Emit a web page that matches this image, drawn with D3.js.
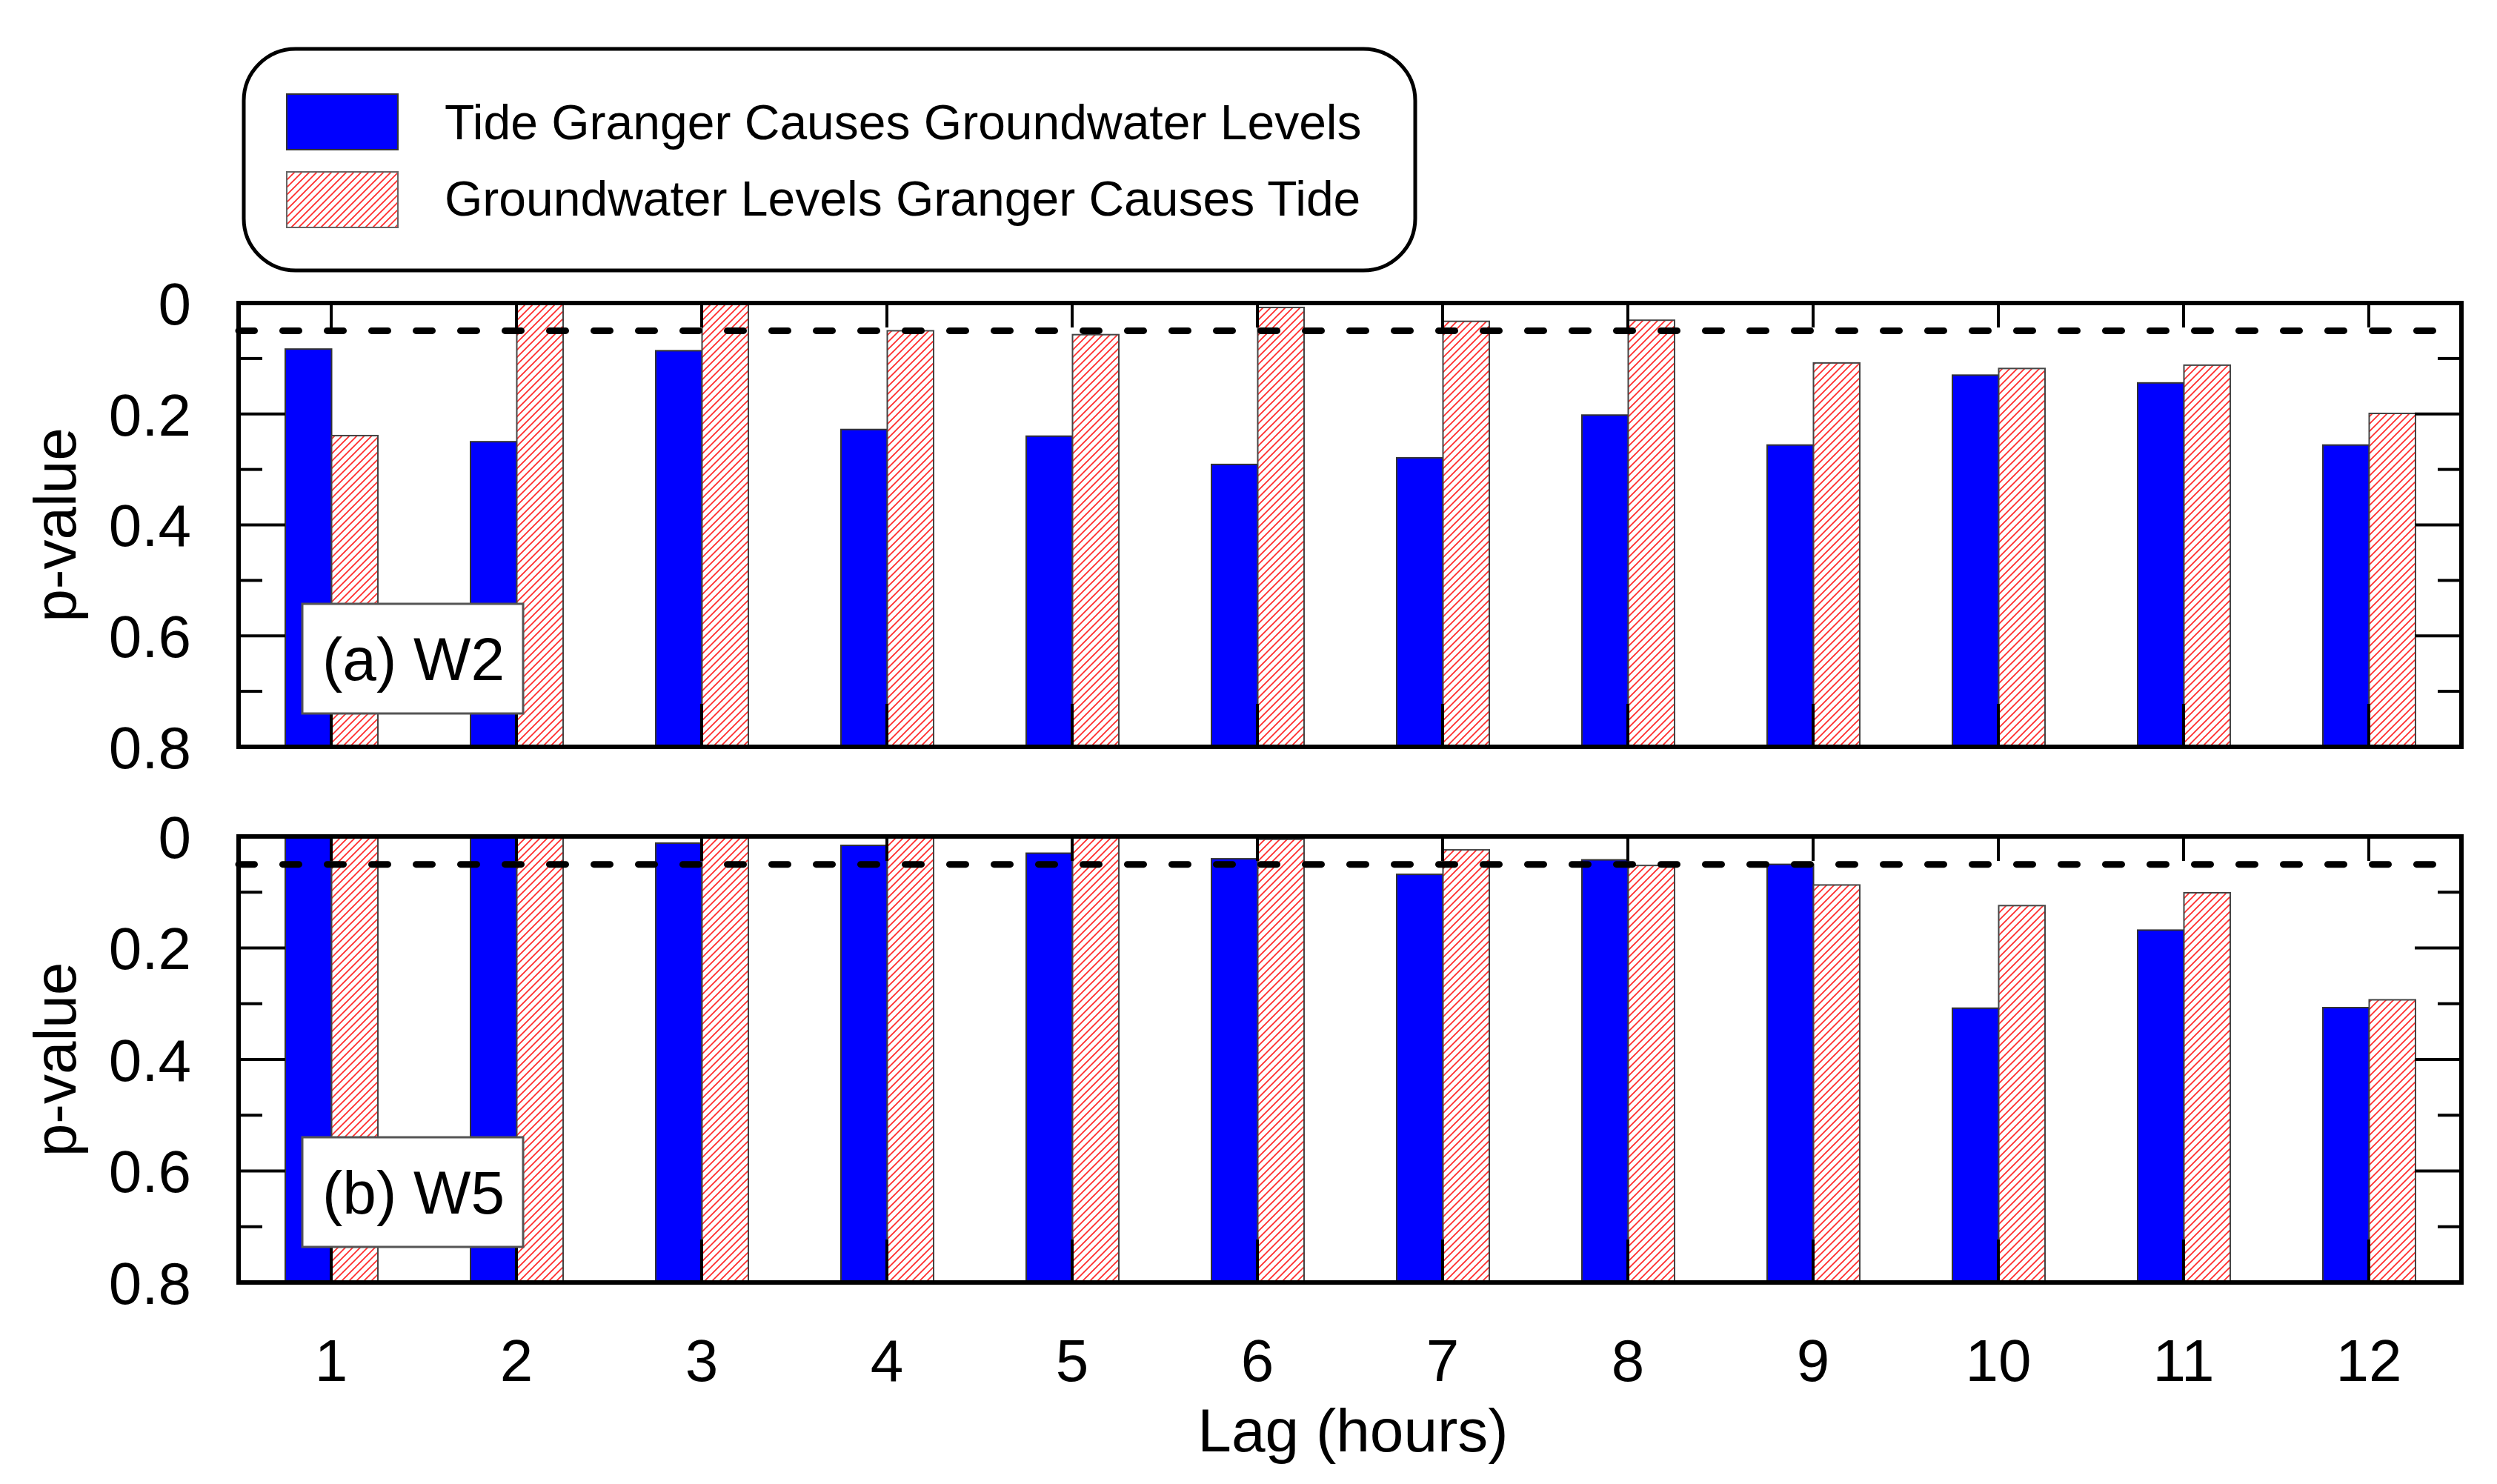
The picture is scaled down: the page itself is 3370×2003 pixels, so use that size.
<!DOCTYPE html>
<html>
<head>
<meta charset="utf-8">
<script src="https://cdn.jsdelivr.net/npm/d3@7"></script>
<style>
  html, body { margin: 0; padding: 0; background: #fff; }
  svg { display: block; font-family: "Liberation Sans", Arial, sans-serif; }
</style>
</head>
<body>
<script>
// ---------------- DATA ----------------
const lags = [1, 2, 3, 4, 5, 6, 7, 8, 9, 10, 11, 12];
const seriesNames = ["Tide Granger Causes Groundwater Levels", "Groundwater Levels Granger Causes Tide"];
const panelLabels = ["(a) W2", "(b) W5"];
// p-values, panel (a) W2
const w2TideCausesGw = [0.083, 0.250, 0.086, 0.228, 0.240, 0.291, 0.279, 0.202, 0.256, 0.130, 0.144, 0.256];
const w2GwCausesTide = [0.239, 0.002, 0.002, 0.050, 0.057, 0.008, 0.033, 0.031, 0.108, 0.118, 0.112, 0.199];
// p-values, panel (b) W5
const w5TideCausesGw = [0.001, 0.001, 0.012, 0.016, 0.030, 0.040, 0.068, 0.042, 0.050, 0.308, 0.168, 0.307];
const w5GwCausesTide = [0.001, 0.001, 0.001, 0.001, 0.001, 0.005, 0.024, 0.052, 0.087, 0.124, 0.101, 0.293];
const yMajorTicks = [0, 0.2, 0.4, 0.6, 0.8];
const yMinorTicks = [0.1, 0.3, 0.5, 0.7];
const significance = 0.05;
const xTitle = "Lag (hours)";
const yTitle = "p-value";

// ---------------- LAYOUT ----------------
const W = 3370, H = 2003;
const plotLeft = 322, plotRight = 3322;
const panels = [
  { top: 409, bottom: 1008, tide: w2TideCausesGw, gw: w2GwCausesTide, label: panelLabels[0] },
  { top: 1129, bottom: 1731, tide: w5TideCausesGw, gw: w5GwCausesTide, label: panelLabels[1] }
];
const blue = "#0000ff";
const hatchRed = "#ff2b2b";

const svg = d3.select("body").append("svg")
  .attr("width", W).attr("height", H).attr("viewBox", `0 0 ${W} ${H}`);

// hatch pattern
const defs = svg.append("defs");
const pat = defs.append("pattern")
  .attr("id", "hatch").attr("patternUnits", "userSpaceOnUse")
  .attr("width", 10).attr("height", 10);
pat.append("rect").attr("width", 10).attr("height", 10).attr("fill", "#fff");
pat.append("path")
  .attr("d", "M-2,2 L2,-2 M0,10 L10,0 M8,12 L12,8")
  .attr("stroke", hatchRed).attr("stroke-width", 1.7);

const x = d3.scaleBand().domain(lags).range([plotLeft, plotRight]).padding(0);
const sub = d3.scaleBand().domain(["tide", "gw"]).range([63, 188]).padding(0);

panels.forEach((p, pi) => {
  const y = d3.scaleLinear().domain([0, 0.8]).range([p.top, p.bottom]);
  const g = svg.append("g");

  const rows = lags.map((l, i) => ({ lag: l, tide: p.tide[i], gw: p.gw[i] }));

  // bars
  g.selectAll("rect.tide").data(rows).join("rect")
    .attr("class", "tide")
    .attr("x", d => x(d.lag) + sub("tide"))
    .attr("width", sub.bandwidth())
    .attr("y", d => y(d.tide))
    .attr("height", d => y(0.8) - y(d.tide))
    .attr("fill", blue).attr("stroke", "#333").attr("stroke-width", 2);

  g.selectAll("rect.gw").data(rows).join("rect")
    .attr("class", "gw")
    .attr("x", d => x(d.lag) + sub("gw"))
    .attr("width", sub.bandwidth())
    .attr("y", d => y(d.gw))
    .attr("height", d => y(0.8) - y(d.gw))
    .attr("fill", "url(#hatch)").attr("stroke", "#444").attr("stroke-width", 2);

  // ticks
  const tk = g.append("g").attr("stroke", "#000").attr("stroke-width", 4);
  yMajorTicks.forEach(t => {
    tk.append("line").attr("x1", plotLeft).attr("x2", plotLeft + 63).attr("y1", y(t)).attr("y2", y(t));
    tk.append("line").attr("x1", plotRight).attr("x2", plotRight - 63).attr("y1", y(t)).attr("y2", y(t));
  });
  yMinorTicks.forEach(t => {
    tk.append("line").attr("x1", plotLeft).attr("x2", plotLeft + 32).attr("y1", y(t)).attr("y2", y(t));
    tk.append("line").attr("x1", plotRight).attr("x2", plotRight - 32).attr("y1", y(t)).attr("y2", y(t));
  });
  lags.forEach(l => {
    const cx = x(l) + x.bandwidth() / 2;
    tk.append("line").attr("x1", cx).attr("x2", cx).attr("y1", p.top).attr("y2", p.top + 33);
    tk.append("line").attr("x1", cx).attr("x2", cx).attr("y1", p.bottom).attr("y2", p.bottom - 58);
  });

  // significance line
  g.append("line")
    .attr("x1", plotLeft).attr("x2", plotRight - 22)
    .attr("y1", y(significance)).attr("y2", y(significance))
    .attr("stroke", "#000").attr("stroke-width", 9)
    .attr("stroke-linecap", "round")
    .attr("stroke-dasharray", "22,38")
    .attr("stroke-dashoffset", 0.5);

  // frame
  g.append("rect")
    .attr("x", plotLeft).attr("y", p.top)
    .attr("width", plotRight - plotLeft).attr("height", p.bottom - p.top)
    .attr("fill", "none").attr("stroke", "#000").attr("stroke-width", 6);

  // y tick labels
  g.selectAll("text.ytl").data(yMajorTicks).join("text")
    .attr("class", "ytl")
    .attr("x", 258).attr("y", d => y(d)).attr("dy", "0.36em")
    .attr("text-anchor", "end").attr("font-size", 80).attr("fill", "#000")
    .text(d => d3.format("")(d));

  // y title
  g.append("text")
    .attr("transform", `translate(102,${(p.top + p.bottom) / 2}) rotate(-90)`)
    .attr("text-anchor", "middle").attr("font-size", 80).attr("fill", "#000")
    .text(yTitle);

  // panel label box
  const by = p.top + 406;
  g.append("rect")
    .attr("x", 408).attr("y", by).attr("width", 298).attr("height", 148)
    .attr("fill", "#fff").attr("stroke", "#555").attr("stroke-width", 3);
  g.append("text")
    .attr("x", 435).attr("y", by + 103)
    .attr("font-size", 82).attr("fill", "#000")
    .text(p.label);
});

// x tick labels
svg.append("g").selectAll("text").data(lags).join("text")
  .attr("x", d => x(d) + x.bandwidth() / 2).attr("y", 1864)
  .attr("text-anchor", "middle").attr("font-size", 80).attr("fill", "#000")
  .text(d => d);

svg.append("text")
  .attr("x", 1826).attr("y", 1959)
  .attr("text-anchor", "middle").attr("font-size", 82).attr("fill", "#000")
  .text(xTitle);

// legend
const lg = svg.append("g");
lg.append("rect")
  .attr("x", 329).attr("y", 66).attr("width", 1581).attr("height", 299)
  .attr("rx", 70).attr("ry", 70)
  .attr("fill", "#fff").attr("stroke", "#000").attr("stroke-width", 5);
const legendItems = [
  { name: seriesNames[0], fill: blue, stroke: "#333", y: 127, base: 188 },
  { name: seriesNames[1], fill: "url(#hatch)", stroke: "#666", y: 232, base: 291 }
];
legendItems.forEach(it => {
  lg.append("rect").attr("x", 387).attr("y", it.y).attr("width", 150).attr("height", 75)
    .attr("fill", it.fill).attr("stroke", it.stroke).attr("stroke-width", 2);
  lg.append("text").attr("x", 600).attr("y", it.base)
    .attr("font-size", 66).attr("fill", "#000").text(it.name);
});
</script>
</body>
</html>
